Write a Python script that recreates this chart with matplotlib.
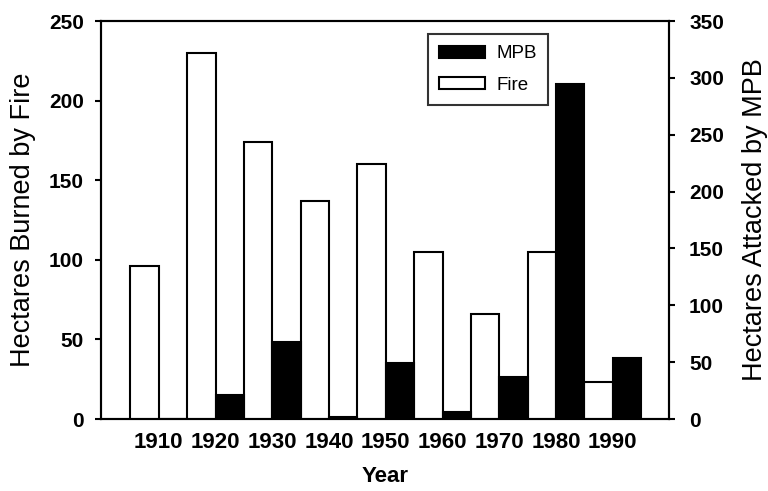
import matplotlib
matplotlib.use("Agg")
import matplotlib.pyplot as plt
import numpy as np
from matplotlib.patches import Patch

years = ["1910", "1920", "1930", "1940", "1950", "1960", "1970", "1980", "1990"]
fire = [96, 230, 174, 137, 160, 105, 66, 105, 23]
mpb = [0, 21, 68, 2, 49, 6, 37, 295, 54]

plt.rcParams['font.family'] = ['Liberation Sans', 'DejaVu Sans']

fig = plt.figure(figsize=(7.68, 4.91), dpi=100)
ax = fig.add_axes([0.1315, 0.1466, 0.7395, 0.8104])
ax2 = ax.twinx()

x = np.arange(len(years))
w = 0.5
ax.bar(x - w / 2, fire, width=w, facecolor='white', edgecolor='black', linewidth=1.5, zorder=3)
ax2.bar(x + w / 2, mpb, width=w, facecolor='black', edgecolor='black', linewidth=1.5, zorder=3)

ax.set_xlim(-1.02, 8.99)
ax.set_ylim(0, 250)
ax2.set_ylim(0, 350)
ax.set_yticks([0, 50, 100, 150, 200, 250])
ax2.set_yticks([0, 50, 100, 150, 200, 250, 300, 350])
ax.set_xticks(x)
ax.set_xticklabels(years)

for a in (ax, ax2):
    for s in a.spines.values():
        s.set_linewidth(1.5)
ax.tick_params(axis='x', length=0, labelsize=16, pad=9)
ax.tick_params(axis='y', length=4.5, width=1.5, labelsize=15, pad=8, direction='out')
ax2.tick_params(axis='y', length=4.5, width=1.5, labelsize=15, pad=10, direction='out')
for lab in ax.get_xticklabels() + ax.get_yticklabels() + ax2.get_yticklabels():
    lab.set_fontweight('bold')

ax.set_xlabel("Year", fontsize=16, fontweight='bold', labelpad=10)
ax.set_ylabel("Hectares Burned by Fire", fontsize=19.5, labelpad=9)
ax2.set_ylabel("Hectares Attacked by MPB", fontsize=19.5, labelpad=13)

handles = [Patch(facecolor='black', edgecolor='black', linewidth=1.5, label='MPB'),
           Patch(facecolor='white', edgecolor='black', linewidth=1.5, label='Fire')]
leg = ax2.legend(handles=handles, loc='upper left', bbox_to_anchor=(0.576, 0.967),
                 fontsize=13.5, frameon=True, fancybox=False, edgecolor='black',
                 handlelength=2.45, handleheight=0.64, borderpad=0.6, labelspacing=0.75,
                 handletextpad=0.6, borderaxespad=0)
leg.get_frame().set_linewidth(1.5)

fig.savefig("out.png", dpi=100)
